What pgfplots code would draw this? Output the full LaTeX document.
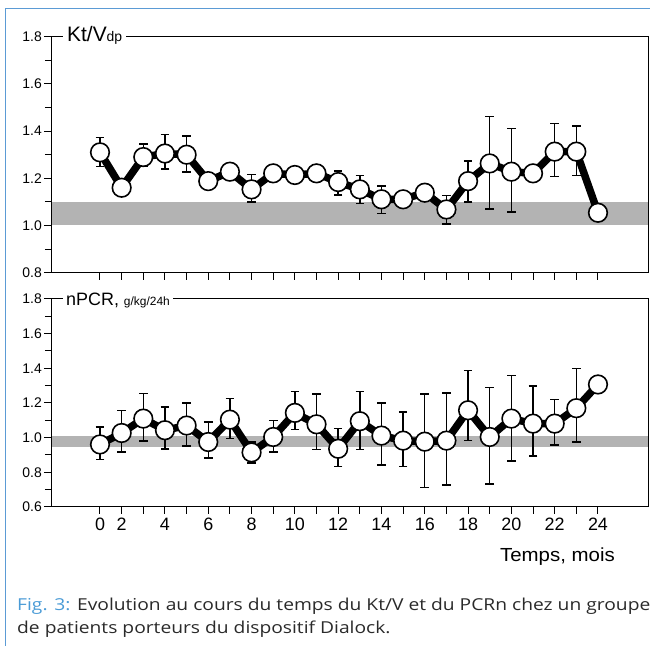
\documentclass[border=0pt]{standalone}
\usepackage{pgfplots}
\pgfplotsset{compat=1.18}
\usepackage{pgfplotstable}
\usepackage{fontspec}
\setmainfont{Liberation Sans}
\newfontfamily\capfont[FakeStretch=1.17]{Open Sans}
\newfontfamily\widefont[FakeStretch=1.08]{Liberation Sans}
\definecolor{frameblue}{HTML}{5B9BD5}
\definecolor{figblue}{HTML}{4A9BD6}
\definecolor{band}{HTML}{B3B3B3}
\definecolor{captxt}{HTML}{2A2A2A}

\pgfplotstableread{
x y ep em
1 1.310 0.063 0.060
2 1.160 0.015 0.015
3 1.290 0.055 0.040
4 1.305 0.080 0.066
5 1.300 0.080 0.073
6 1.188 0.020 0.020
7 1.228 0.020 0.020
8 1.153 0.064 0.053
9 1.221 0.020 0.020
10 1.214 0.020 0.020
11 1.221 0.020 0.020
12 1.184 0.047 0.055
13 1.153 0.058 0.059
14 1.111 0.056 0.060
15 1.111 0.020 0.020
16 1.139 0.020 0.020
17 1.068 0.060 0.062
18 1.188 0.085 0.088
19 1.263 0.200 0.193
20 1.228 0.182 0.170
21 1.221 0.020 0.020
22 1.313 0.120 0.106
23 1.313 0.108 0.102
24 1.054 0.000 0.000
}\ktv

\pgfplotstableread{
x y ep em
1 0.961 0.101 0.087
2 1.027 0.131 0.110
3 1.110 0.145 0.129
4 1.043 0.133 0.109
5 1.070 0.129 0.118
6 0.975 0.116 0.093
7 1.104 0.122 0.110
8 0.915 0.060 0.062
9 1.004 0.096 0.087
10 1.143 0.124 0.097
11 1.077 0.174 0.145
12 0.936 0.116 0.102
13 1.095 0.170 0.163
14 1.012 0.187 0.170
15 0.983 0.164 0.149
16 0.977 0.274 0.263
17 0.983 0.274 0.257
18 1.158 0.228 0.173
19 1.004 0.286 0.271
20 1.110 0.247 0.245
21 1.081 0.217 0.187
22 1.081 0.139 0.124
23 1.170 0.230 0.195
24 1.307 0.000 0.000
}\npcr

\pgfplotsset{
  panel/.style={
    scale only axis, width=597bp,
    xmin=-1.263, xmax=26.31,
    axis on top,
    axis line style={line width=1bp},
    every tick/.style={black, line width=1bp},
    tick align=outside,
    major tick length=7bp, minor tick length=6bp,
    xtick={1,...,24},
    xtick pos=bottom, ytick pos=left,
    minor y tick num=1,
    yticklabel style={font=\fontsize{14}{14}\selectfont, inner xsep=2bp},
    /pgf/number format/.cd, fixed, fixed zerofill, precision=1, assume math mode=true,
  },
  errs/.style={draw=none, mark=none, forget plot,
    error bars/.cd, y dir=both, y explicit,
    error bar style={draw=black, solid, line width=1.4bp},
    error mark options={draw=black, solid, line width=1.4bp, rotate=90, mark size=4.3bp}},
  thickline/.style={black, line width=7.5bp, mark=none, line join=miter},
  circ/.style={only marks, mark=*, mark size=9.3bp, mark options={fill=white, draw=black, line width=1.6bp}},
}

\begin{document}
\begin{tikzpicture}
\path[use as bounding box] (0bp,0bp) rectangle (650bp,646bp);
\draw[frameblue, line width=1.3bp] (5.3bp,0bp) -- (5.3bp,637.5bp) -- (650bp,637.5bp);

\begin{axis}[panel, name=top, at={(51bp,373.3bp)}, anchor=south west,
  height=236bp, ymin=0.8, ymax=1.8, ytick={0.8,1.0,...,1.8},
  xticklabels={}]
\addplot[draw=none, fill=band] coordinates {(-1.263,1.0) (26.31,1.0) (26.31,1.1) (-1.263,1.1)} --cycle;
\addplot[errs] table[x=x, y=y, y error plus=ep, y error minus=em] {\ktv};
\addplot[thickline] table[x=x, y=y] {\ktv};
\addplot[circ] table[x=x, y=y] {\ktv};
\end{axis}
\node[fill=white, anchor=west, inner xsep=4bp, inner ysep=1bp, xshift=12bp, yshift=1bp] at (top.north west)
  {\fontsize{21}{21}\selectfont Kt/V\fontsize{14}{14}\selectfont dp};

\begin{axis}[panel, name=bot, at={(51bp,139bp)}, anchor=south west,
  height=208bp, ymin=0.6, ymax=1.8, ytick={0.6,0.8,...,1.8},
  xticklabels={0,2,,4,,6,,8,,10,,12,,14,,16,,18,,20,,22,,24},
  xticklabel style={font=\fontsize{18}{18}\selectfont, inner ysep=4bp}]
\addplot[draw=none, fill=band] coordinates {(-1.263,0.946) (26.31,0.946) (26.31,1.01) (-1.263,1.01)} --cycle;
\addplot[errs] table[x=x, y=y, y error plus=ep, y error minus=em] {\npcr};
\addplot[thickline] table[x=x, y=y] {\npcr};
\addplot[circ] table[x=x, y=y] {\npcr};
\end{axis}
\node[fill=white, anchor=west, inner xsep=3bp, inner ysep=1bp, xshift=12bp, yshift=-1bp] at (bot.north west)
  {\fontsize{18}{18}\selectfont nPCR, \fontsize{12}{12}\selectfont g/kg/24h};

\node[anchor=base east, inner sep=0pt] at (615bp,84bp) {\widefont\fontsize{19}{19}\selectfont Temps, mois};

\node[anchor=base west, inner sep=0pt, text=captxt] at (17bp,36bp)
  {\capfont\fontsize{16.5}{16.5}\selectfont\textcolor{figblue}{Fig. 3:} Evolution au cours du temps du Kt/V et du PCRn chez un groupe};
\node[anchor=base west, inner sep=0pt, text=captxt] at (17bp,13bp)
  {\capfont\fontsize{16.5}{16.5}\selectfont de patients porteurs du dispositif Dialock.};
\end{tikzpicture}
\end{document}
